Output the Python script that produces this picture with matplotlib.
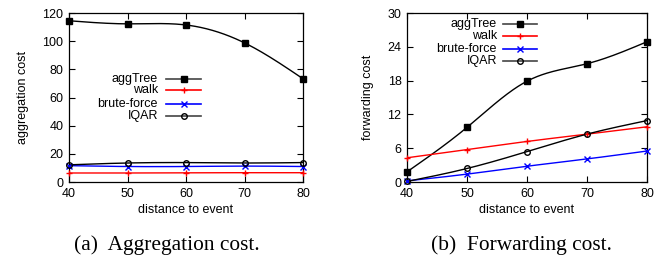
import numpy as np
import matplotlib.pyplot as plt
from matplotlib.lines import Line2D

plt.rcParams['font.family'] = ['Liberation Sans', 'DejaVu Sans']

distance = [40, 50, 60, 70, 80]

# aggregation cost
agg_aggtree = [114.5, 112.3, 111.5, 98.8, 73.3]
agg_walk = [6.4, 6.4, 6.6, 6.6, 6.6]
agg_brute = [11.6, 11.0, 11.0, 11.3, 11.0]
agg_iqar = [12.2, 13.5, 13.8, 13.5, 13.8]

# forwarding cost
fwd_aggtree = [1.8, 9.7, 17.9, 21.0, 24.9]
fwd_walk = [4.3, 5.75, 7.2, 8.5, 9.8]
fwd_brute = [0.2, 1.4, 2.8, 4.1, 5.5]
fwd_iqar = [0.1, 2.4, 5.4, 8.5, 10.9]

labels = ["aggTree", "walk", "brute-force", "IQAR"]
colors = ["black", "red", "blue", "black"]
markers = ["s", "+", "x", "o"]
mfaces = ["black", "red", "blue", "none"]
msizes = [5, 5, 4.5, 4]


def natural_spline(x, y, n=200):
    # natural cubic spline through the points (gnuplot "smooth csplines")
    x = np.asarray(x, float)
    y = np.asarray(y, float)
    k = len(x)
    h = np.diff(x)
    A = np.zeros((k, k))
    b = np.zeros(k)
    A[0, 0] = A[-1, -1] = 1
    for i in range(1, k - 1):
        A[i, i - 1] = h[i - 1]
        A[i, i] = 2 * (h[i - 1] + h[i])
        A[i, i + 1] = h[i]
        b[i] = 6 * ((y[i + 1] - y[i]) / h[i] - (y[i] - y[i - 1]) / h[i - 1])
    M = np.linalg.solve(A, b)
    xs = np.linspace(x[0], x[-1], n)
    idx = np.clip(np.searchsorted(x, xs) - 1, 0, k - 2)
    x0, x1 = x[idx], x[idx + 1]
    hh = x1 - x0
    t0, t1 = x1 - xs, xs - x0
    ys = (M[idx] * t0**3 + M[idx + 1] * t1**3) / (6 * hh) \
        + (y[idx] / hh - M[idx] * hh / 6) * t0 \
        + (y[idx + 1] / hh - M[idx + 1] * hh / 6) * t1
    return xs, ys


def draw(ax, series, ylim, yticks, ylabel, leg_x, leg_y):
    for vals, c, m, mf, ms in zip(series, colors, markers, mfaces, msizes):
        xs, ys = natural_spline(distance, vals)
        ax.plot(xs, ys, color=c, lw=1, zorder=2)
        ax.plot(distance, vals, ls="none", marker=m, color=c, mfc=mf,
                mec=c, ms=ms, mew=1, zorder=3, clip_on=False)
    ax.set_xlim(40, 80)
    ax.set_ylim(*ylim)
    ax.set_xticks(distance)
    ax.set_yticks(yticks)
    ax.tick_params(direction="in", top=True, right=True, labelsize=9,
                   length=4, width=0.8, pad=4)
    ax.set_xlabel("distance to event", fontsize=9, labelpad=3)
    ax.set_ylabel(ylabel, fontsize=9, labelpad=10)
    for s in ax.spines.values():
        s.set_linewidth(0.9)
    # gnuplot style key: text right aligned, sample line on the right
    for i, (lab, c, m, mf, ms) in enumerate(zip(labels, colors, markers, mfaces, msizes)):
        y = leg_y[i]
        ax.text(leg_x[0], y, lab, transform=ax.transAxes, ha="right",
                va="center", fontsize=9)
        ax.add_line(Line2D([leg_x[1], leg_x[2]], [y, y], transform=ax.transAxes,
                           color=c if c != "black" else "#444444", lw=1.2))
        ax.add_line(Line2D([(leg_x[1] + leg_x[2]) / 2], [y], transform=ax.transAxes,
                           ls="none", marker=m, color=c, mfc=mf, mec=c,
                           ms=ms, mew=1))


fig = plt.figure(figsize=(6.68, 2.57), dpi=100)
ax1 = fig.add_axes([0.1033, 0.2918, 0.3503, 0.6576])
ax2 = fig.add_axes([0.6093, 0.2918, 0.3593, 0.6576])

draw(ax1, [agg_aggtree, agg_walk, agg_brute, agg_iqar], (0, 120),
     range(0, 121, 20), "aggregation cost",
     (0.38, 0.415, 0.564), [0.609, 0.544, 0.462, 0.391])
draw(ax2, [fwd_aggtree, fwd_walk, fwd_brute, fwd_iqar], (0, 30),
     range(0, 31, 6), "forwarding cost",
     (0.375, 0.40, 0.542), [0.935, 0.864, 0.787, 0.716])

fig.text(0.25, 0.045, "(a)  Aggregation cost.", ha="center", va="center",
         fontsize=15.4, family=["Liberation Serif", "DejaVu Serif"])
fig.text(0.781, 0.045, "(b)  Forwarding cost.", ha="center", va="center",
         fontsize=15.4, family=["Liberation Serif", "DejaVu Serif"])

fig.savefig("out.png", dpi=100)
